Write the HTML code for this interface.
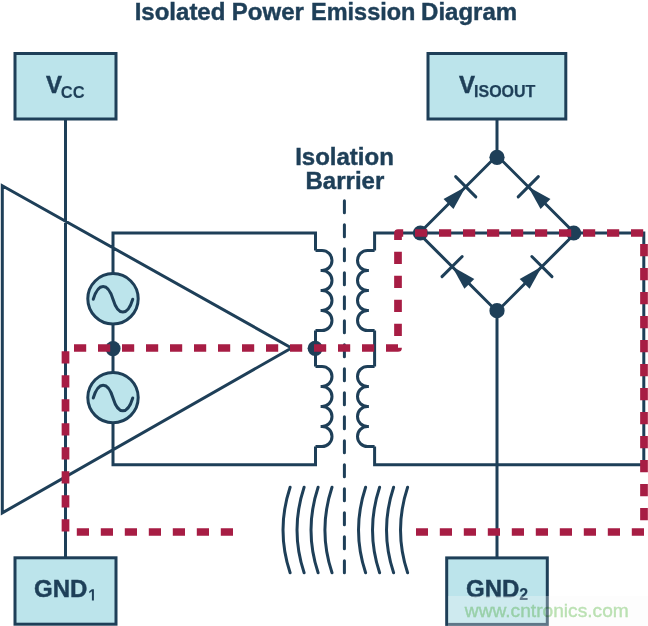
<!DOCTYPE html>
<html><head><meta charset="utf-8"><style>html,body{margin:0;padding:0;background:#fff;}svg{display:block;will-change:transform;}</style></head>
<body><svg width="648" height="626" viewBox="0 0 648 626">
<rect x="0" y="0" width="648" height="626" fill="#ffffff"/>
<path d="M65.5,119 L65.5,558 M2.3,185.7 L291.5,348 L2.3,512.9 Z M113,273.6 L113,233 L315.5,233 L315.5,250.5 M315.5,250.5 L322,250.5 A10,10 0 0 1 322,270.5 L320.6,270.5 L322,270.5 A10,10 0 0 1 322,290.5 L320.6,290.5 L322,290.5 A10,10 0 0 1 322,310.5 L320.6,310.5 L322,310.5 A10,10 0 0 1 322,330.5 L315.5,330.5 M315.5,330.5 L315.5,366.5 M315.5,366.5 L322,366.5 A10,10 0 0 1 322,386.5 L320.6,386.5 L322,386.5 A10,10 0 0 1 322,406.5 L320.6,406.5 L322,406.5 A10,10 0 0 1 322,426.5 L320.6,426.5 L322,426.5 A10,10 0 0 1 322,446.5 L315.5,446.5 M315.5,446.5 L315.5,464.7 L113,464.7 L113,422.8 M113,324.0 L113,372.40000000000003 M374.6,250.5 L374.6,233 L643.8,233 L643.8,464.7 L374.6,464.7 L374.6,446.5 M374.6,250.5 L367.5,250.5 A10,10 0 0 0 367.5,270.5 L368.9,270.5 L367.5,270.5 A10,10 0 0 0 367.5,290.5 L368.9,290.5 L367.5,290.5 A10,10 0 0 0 367.5,310.5 L368.9,310.5 L367.5,310.5 A10,10 0 0 0 367.5,330.5 L374.6,330.5 M374.6,330.5 L374.6,366.5 M374.6,366.5 L367.5,366.5 A10,10 0 0 0 367.5,386.5 L368.9,386.5 L367.5,386.5 A10,10 0 0 0 367.5,406.5 L368.9,406.5 L367.5,406.5 A10,10 0 0 0 367.5,426.5 L368.9,426.5 L367.5,426.5 A10,10 0 0 0 367.5,446.5 L374.6,446.5 M497,119 L497,157.3 M497,310.7 L497,558 M419,233.5 L497,155.5 L575,233.5 L497,311.5 Z" fill="none" stroke="#1e3f58" stroke-width="3" stroke-linejoin="miter"/>
<rect x="15.0" y="53.5" width="101.0" height="65.5" fill="#bce4eb" stroke="#1e3f58" stroke-width="3"/>
<rect x="428.0" y="53.5" width="137.79999999999995" height="65.5" fill="#bce4eb" stroke="#1e3f58" stroke-width="3"/>
<rect x="15.0" y="557.8" width="101.0" height="66.40000000000009" fill="#bce4eb" stroke="#1e3f58" stroke-width="3"/>
<rect x="446.7" y="557.9" width="100.59999999999997" height="66.5" fill="#bce4eb" stroke="#1e3f58" stroke-width="3"/>
<circle cx="113" cy="298.8" r="25.2" fill="#bce4eb" stroke="#1e3f58" stroke-width="3"/>
<path d="M93.25,299.20 C98.39,282.13 107.86,282.13 113.00,299.20 C118.14,316.27 127.61,316.27 132.75,299.20" fill="none" stroke="#1e3f58" stroke-width="3" stroke-linecap="round" stroke-linejoin="round"/>
<circle cx="113" cy="397.6" r="25.2" fill="#bce4eb" stroke="#1e3f58" stroke-width="3"/>
<path d="M93.25,398.00 C98.39,380.93 107.86,380.93 113.00,398.00 C118.14,415.07 127.61,415.07 132.75,398.00" fill="none" stroke="#1e3f58" stroke-width="3" stroke-linecap="round" stroke-linejoin="round"/>
<polygon points="465.74,186.76 453.44,208.96 443.54,199.06" fill="#1e3f58"/><line x1="475.82" y1="196.84" x2="455.66" y2="176.68" stroke="#1e3f58" stroke-width="3" stroke-linecap="round"/>
<polygon points="528.26,186.76 550.46,199.06 540.56,208.96" fill="#1e3f58"/><line x1="538.34" y1="176.68" x2="518.18" y2="196.84" stroke="#1e3f58" stroke-width="3" stroke-linecap="round"/>
<polygon points="452.10,266.60 474.30,278.90 464.40,288.80" fill="#1e3f58"/><line x1="462.17" y1="256.52" x2="442.02" y2="276.67" stroke="#1e3f58" stroke-width="3" stroke-linecap="round"/>
<polygon points="541.90,266.60 529.60,288.80 519.70,278.90" fill="#1e3f58"/><line x1="551.98" y1="276.67" x2="531.83" y2="256.52" stroke="#1e3f58" stroke-width="3" stroke-linecap="round"/>
<path d="M344.4,200.8 L344.4,572.8" stroke="#1e3f58" stroke-width="3" stroke-dasharray="12 12" stroke-linecap="round" fill="none"/>
<path d="M290.1,487.2 A136.19,136.19 0 0 0 290.1,572.8" fill="none" stroke="#1e3f58" stroke-width="3" stroke-linecap="round"/>
<path d="M304.1,487.2 A136.19,136.19 0 0 0 304.1,572.8" fill="none" stroke="#1e3f58" stroke-width="3" stroke-linecap="round"/>
<path d="M318.1,487.2 A136.19,136.19 0 0 0 318.1,572.8" fill="none" stroke="#1e3f58" stroke-width="3" stroke-linecap="round"/>
<path d="M332.0,487.2 A136.19,136.19 0 0 0 332.0,572.8" fill="none" stroke="#1e3f58" stroke-width="3" stroke-linecap="round"/>
<path d="M365.6,487.2 A136.19,136.19 0 0 0 365.6,572.8" fill="none" stroke="#1e3f58" stroke-width="3" stroke-linecap="round"/>
<path d="M379.6,487.2 A136.19,136.19 0 0 0 379.6,572.8" fill="none" stroke="#1e3f58" stroke-width="3" stroke-linecap="round"/>
<path d="M393.6,487.2 A136.19,136.19 0 0 0 393.6,572.8" fill="none" stroke="#1e3f58" stroke-width="3" stroke-linecap="round"/>
<path d="M407.6,487.2 A136.19,136.19 0 0 0 407.6,572.8" fill="none" stroke="#1e3f58" stroke-width="3" stroke-linecap="round"/>
<circle cx="113" cy="348.6" r="7.6" fill="#1e3f58"/>
<circle cx="497" cy="157.3" r="7.6" fill="#1e3f58"/>
<circle cx="497" cy="310.7" r="7.6" fill="#1e3f58"/>
<circle cx="573.7" cy="233" r="7.6" fill="#1e3f58"/>
<circle cx="315.2" cy="348.3" r="7.6" fill="#1e3f58"/>
<circle cx="420.4" cy="233" r="7.6" fill="#1e3f58"/>
<path d="M233,532 L65.5,532 L65.5,348 L398,348 L398,233 L644,233 L644,532 L416,532" fill="none" stroke="#a71d44" stroke-width="7.7" stroke-dasharray="12.2 11.8" stroke-linejoin="round"/>
<text x="134.7" y="20.1" font-family="Liberation Sans, sans-serif" font-weight="bold" stroke="#1e3f58" stroke-width="0.45" font-size="24" fill="#1e3f58">Isolated</text>
<text x="231.8" y="20.1" font-family="Liberation Sans, sans-serif" font-weight="bold" stroke="#1e3f58" stroke-width="0.45" font-size="24" fill="#1e3f58">Power</text>
<text x="311.1" y="20.1" font-family="Liberation Sans, sans-serif" font-weight="bold" stroke="#1e3f58" stroke-width="0.45" font-size="24" fill="#1e3f58" textLength="104.3" lengthAdjust="spacingAndGlyphs">Emission</text>
<text x="421.1" y="20.1" font-family="Liberation Sans, sans-serif" font-weight="bold" stroke="#1e3f58" stroke-width="0.45" font-size="24" fill="#1e3f58">Diagram</text>
<text x="344.5" y="164.7" font-family="Liberation Sans, sans-serif" font-weight="bold" stroke="#1e3f58" stroke-width="0.45" font-size="24" fill="#1e3f58" text-anchor="middle">Isolation</text>
<text x="344.9" y="188.8" font-family="Liberation Sans, sans-serif" font-weight="bold" stroke="#1e3f58" stroke-width="0.45" font-size="24" fill="#1e3f58" text-anchor="middle">Barrier</text>
<text x="46" y="93.2" font-family="Liberation Sans, sans-serif" font-weight="bold" stroke="#1e3f58" stroke-width="0.45" font-size="24" fill="#1e3f58">V<tspan font-size="16.5" dx="-1.2" dy="4.4" stroke-width="0.1">CC</tspan></text>
<text x="459" y="93.3" font-family="Liberation Sans, sans-serif" font-weight="bold" stroke="#1e3f58" stroke-width="0.45" font-size="24" fill="#1e3f58">V<tspan font-size="16" dx="-1" dy="4" stroke-width="0.25">ISOOUT</tspan></text>
<text x="34" y="596.5" font-family="Liberation Sans, sans-serif" font-weight="bold" stroke="#1e3f58" stroke-width="0.45" font-size="24" fill="#1e3f58">GND</text>
<polygon points="91.9,589.2 93.9,589.2 93.9,600.4 91.9,600.4 91.9,591.3 89.3,593.2 89.3,591.2" fill="#1e3f58"/>
<text x="466" y="596.5" font-family="Liberation Sans, sans-serif" font-weight="bold" stroke="#1e3f58" stroke-width="0.45" font-size="24" fill="#1e3f58">GND<tspan font-size="16" dy="3.5" stroke-width="0.1">2</tspan></text>
<rect x="448" y="596" width="200" height="30" fill="#f8f8f8" fill-opacity="0.3"/>
<text x="464.8" y="617.4" font-family="Liberation Sans, sans-serif" font-size="18.4" textLength="164" lengthAdjust="spacingAndGlyphs" fill="#bde3b5" stroke="#bde3b5" stroke-width="0.35" style="mix-blend-mode:multiply">www.cntronics.com</text>
</svg></body></html>
